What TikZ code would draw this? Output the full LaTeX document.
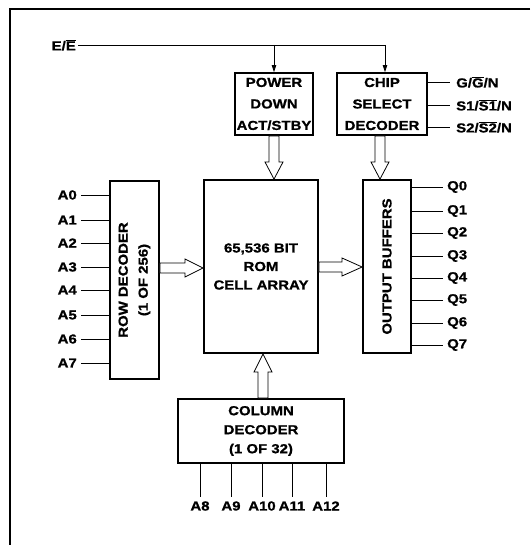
\documentclass[tikz,border=0pt]{standalone}
\usepackage{fontspec}
\setmainfont[FakeStretch=1.15, BoldFeatures={FakeBold=1}]{Liberation Sans}
\usetikzlibrary{arrows.meta}
\newcommand\ovb[1]{$\overline{\mbox{#1}}$}
\begin{document}
\begin{tikzpicture}[x=1pt,y=-1pt,
  txt/.style={font=\fontsize{13}{15}\selectfont\bfseries},
  blk/.style={draw, line width=1.8pt, inner sep=0pt, align=center, txt},
  lbl/.style={txt, inner sep=2pt},
  wire/.style={line width=0.8pt},
  hol/.style={draw, fill=white, line width=0.8pt, line join=miter},
  tip/.style={-{Triangle[length=7pt,width=4.5pt]}}]
\useasboundingbox (0,0) rectangle (530,545);
% frame
\draw[line width=1.4pt] (530,9) -- (10,9) -- (10,545);

% blocks
\node[blk, minimum width=49pt, minimum height=198pt] (row) at (134.5,280) {};
\node[txt, rotate=90, align=center, font=\fontsize{13}{20}\selectfont\bfseries] (rowt) at (row.center) {ROW DECODER\\(1 OF 256)};
\node[blk, minimum width=114pt, minimum height=173pt, font=\fontsize{13}{18.5}\selectfont\bfseries] (arr) at (261,266.5) {65,536 BIT\\ROM\\CELL ARRAY};
\node[blk, minimum width=48pt, minimum height=173pt] (out) at (387,266.5) {};
\node[txt, rotate=90] (outt) at (out.center) {OUTPUT BUFFERS};
\node[blk, minimum width=78pt, minimum height=62pt, font=\fontsize{13}{21.5}\selectfont\bfseries] (pwr) at (274,104) {POWER\\DOWN\\ACT/STBY};
\node[blk, minimum width=90pt, minimum height=62pt, font=\fontsize{13}{21.5}\selectfont\bfseries] (chip) at (382,104) {CHIP\\SELECT\\DECODER};
\node[blk, minimum width=166pt, minimum height=64pt, font=\fontsize{13}{19}\selectfont\bfseries] (col) at (261,431) {COLUMN\\DECODER\\(1 OF 32)};

% E/E input
\node[lbl, anchor=east] (e) at (78,45) {E/\ovb{E}};
\coordinate (ej) at (385,45);
\draw[wire] (e.east) -- (ej);
\draw[wire, tip] (pwr.north |- ej) -- (pwr.north);
\draw[wire, tip] (ej) -- (chip.north -| ej);

% chip select inputs
\node[lbl, anchor=west] (g) at (454,82) {G/\ovb{G}/N};
\node[lbl, anchor=west] (s1) at (454,105) {S1/\ovb{S1}/N};
\node[lbl, anchor=west] (s2) at (454,127) {S2/\ovb{S2}/N};
\foreach \n in {g,s1,s2}{
  \draw[wire] (chip.east |- \n.west) -- ([xshift=-4pt]\n.west);
}

% address inputs A0..A7
\foreach \i/\y in {0/195,1/220,2/243,3/267,4/290,5/315,6/339,7/363}{
  \node[lbl, anchor=east] (a\i) at (79,\y) {A\i};
  \draw[wire] ([xshift=2pt]a\i.east) -- (row.west |- a\i.east);
}

% outputs Q0..Q7
\foreach \i/\y in {0/187,1/211,2/233,3/256,4/278,5/300,6/323,7/345}{
  \node[lbl, anchor=west] (q\i) at (445,\y) {Q\i};
  \draw[wire] (out.east |- q\i.west) -- ([xshift=-2pt]q\i.west);
}

% column inputs A8..A12
\foreach \i/\x in {8/200,9/231,10/262,11/292,12/326}{
  \node[lbl] (a\i) at (\x,506) {A\i};
  \draw[wire] (col.south -| a\i) -- ([yshift=2pt]a\i.north);
}

% hollow bus arrows
\draw[hol] (row.east |- 0,263) -- (185,263) -- (185,259) -- (arr.west |- 0,268)
  -- (185,277) -- (185,273) -- (row.east |- 0,273) -- cycle;
\draw[hol] (arr.east |- 0,262) -- (342,262) -- (342,258) -- (out.west |- 0,267)
  -- (342,276) -- (342,272) -- (arr.east |- 0,272) -- cycle;
\draw[hol] (pwr.south -| 269,0) -- (269,162) -- (265,162) -- (arr.north -| 274,0)
  -- (283,162) -- (279,162) -- (pwr.south -| 279,0) -- cycle;
\draw[hol] (chip.south -| 375,0) -- (375,162) -- (371,162) -- (out.north -| 380,0)
  -- (389,162) -- (385,162) -- (chip.south -| 385,0) -- cycle;
\draw[hol] (col.north -| 258,0) -- (258,372) -- (254,372) -- (arr.south -| 263,0)
  -- (272,372) -- (268,372) -- (col.north -| 268,0) -- cycle;
\end{tikzpicture}
\end{document}
